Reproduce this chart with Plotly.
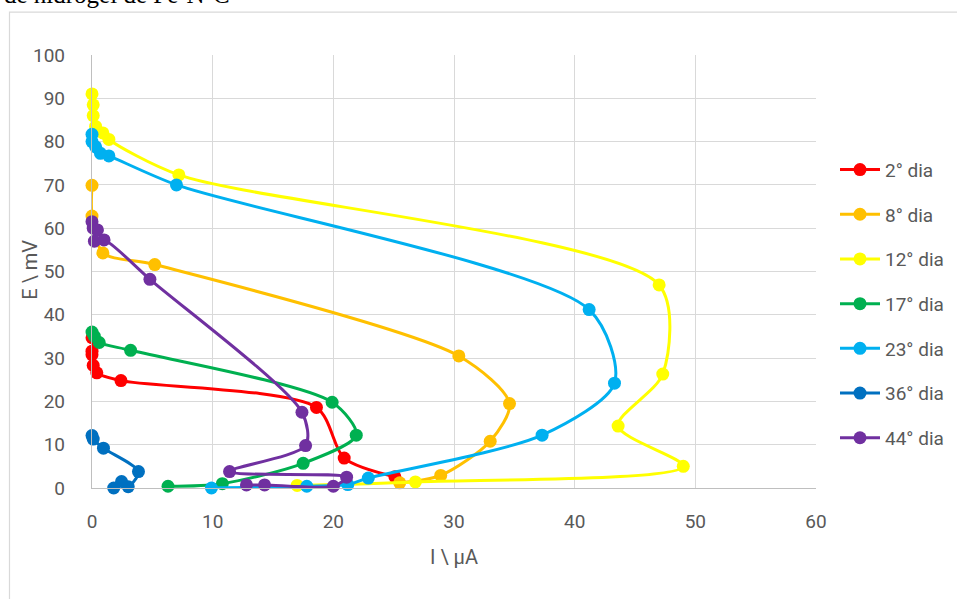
import plotly.graph_objects as go

# Polarisation curves: current I (µA) vs potential E (mV), one series per day
series_names = ["2° dia", "8° dia", "12° dia", "17° dia", "23° dia", "36° dia", "44° dia"]
series_colors = ["#FF0000", "#FFC000", "#FFFF00", "#00B050", "#00B0F0", "#0070C0", "#7030A0"]

i_dia2 = [0.0, 0.0, 0.0, 0.1, 0.4, 2.4, 18.6, 20.9, 25.1]
e_dia2 = [34.7, 31.6, 30.8, 28.3, 26.6, 24.8, 18.6, 6.9, 2.6]

i_dia8 = [0.0, 0.0, 0.9, 5.2, 30.4, 34.6, 33.0, 28.9, 25.5]
e_dia8 = [69.9, 62.8, 54.3, 51.6, 30.5, 19.5, 10.8, 2.9, 1.2]

i_dia12 = [0.0, 0.1, 0.1, 0.3, 0.9, 1.4, 7.2, 47.0, 47.3, 43.6, 49.0, 26.8, 17.0]
e_dia12 = [91.0, 88.5, 86.0, 83.5, 82.0, 80.5, 72.3, 46.9, 26.3, 14.3, 5.0, 1.4, 0.6]

i_dia17 = [0.0, 0.2, 0.6, 3.2, 19.9, 21.9, 17.5, 10.8, 6.3]
e_dia17 = [36.0, 35.0, 33.6, 31.8, 19.8, 12.2, 5.7, 1.0, 0.4]

i_dia23 = [0.0, 0.0, 0.3, 0.7, 1.4, 7.0, 41.2, 43.3, 37.3, 22.9, 21.2, 17.8, 9.9]
e_dia23 = [81.7, 80.0, 78.8, 77.3, 76.7, 70.0, 41.2, 24.2, 12.2, 2.3, 0.8, 0.4, 0.0]

i_dia36 = [0.0, 0.1, 0.95, 3.85, 3.0, 2.45, 1.8]
e_dia36 = [12.1, 11.3, 9.2, 3.8, 0.3, 1.5, 0.0]

i_dia44 = [0.0, 0.1, 0.45, 0.2, 1.0, 4.8, 17.4, 17.7, 11.4, 21.1, 20.0, 14.3, 12.8]
e_dia44 = [61.5, 60.0, 59.6, 57.0, 57.3, 48.2, 17.5, 9.8, 3.8, 2.5, 0.4, 0.7, 0.7]

x_values = [i_dia2, i_dia8, i_dia12, i_dia17, i_dia23, i_dia36, i_dia44]
y_values = [e_dia2, e_dia8, e_dia12, e_dia17, e_dia23, e_dia36, e_dia44]

x_ticks = [0, 10, 20, 30, 40, 50, 60]
y_ticks = [0, 10, 20, 30, 40, 50, 60, 70, 80, 90, 100]

W, H = 957, 599
L, R, T, B = 92, 141, 55, 111
pw, ph = W - L - R, H - T - B

fig = go.Figure()
for k, (name, color) in enumerate(zip(series_names, series_colors)):
    fig.add_trace(go.Scatter(
        x=x_values[k], y=y_values[k], name=name, mode="lines+markers",
        line=dict(color=color, width=3, shape="spline", smoothing=0.8),
        marker=dict(color=color, size=13),
        legendgroup=name, cliponaxis=False,
    ))

FAM = "Roboto, Arial, sans-serif"
tick_font = dict(family=FAM, size=19, color="#595959")
title_font = dict(family=FAM, size=20, color="#595959")

fig.update_layout(
    width=W, height=H,
    margin=dict(l=L, r=R, t=T, b=B, autoexpand=False),
    paper_bgcolor="white", plot_bgcolor="white",
    font=tick_font,
    xaxis=dict(range=[0, 60], tickvals=x_ticks, showgrid=True, gridcolor="#d9d9d9",
               gridwidth=1.3, zeroline=False, showline=True, linecolor="#bfbfbf",
               linewidth=1.3, ticks="", ticklabelstandoff=16, tickfont=tick_font,
               automargin=False,
               title=dict(text="I \\ µA", font=title_font, standoff=18)),
    yaxis=dict(range=[0, 100], tickvals=y_ticks, showgrid=True, gridcolor="#d9d9d9",
               gridwidth=1.3, zeroline=False, showline=True, linecolor="#bfbfbf",
               linewidth=1.3, ticks="", ticklabelstandoff=22, tickfont=tick_font,
               automargin=False),
    legend=dict(x=(835 - L) / pw, y=(488.3 - 151) / ph, xanchor="left", yanchor="top",
                font=dict(family=FAM, size=19, color="#595959"),
                tracegroupgap=17, bgcolor="rgba(0,0,0,0)", itemwidth=40),
    showlegend=True,
)

# Vertical axis title
fig.add_annotation(text="E \\ mV", xref="paper", yref="paper",
                   x=(30 - L) / pw, y=(488.3 - 270) / ph, xanchor="center", yanchor="middle",
                   textangle=-90, showarrow=False, font=title_font)

# Chart frame
fig.add_shape(type="rect", xref="paper", yref="paper",
              x0=(9.5 - L) / pw, x1=(960 - L) / pw,
              y0=(488.3 - 610) / ph, y1=(488.3 - 12.5) / ph,
              line=dict(color="#d9d9d9", width=1.2), fillcolor="rgba(0,0,0,0)", layer="below")

# Caption line of the surrounding text, cut at the top of the page
fig.add_annotation(text="de hidrogel de Fe-N-C", xref="paper", yref="paper",
                   x=(232 - L) / pw, y=(488.3 - 10) / ph, xanchor="right", yanchor="bottom",
                   showarrow=False,
                   font=dict(family="Liberation Serif, Times New Roman, serif", size=25, color="black"))

fig.write_html("out.html")
